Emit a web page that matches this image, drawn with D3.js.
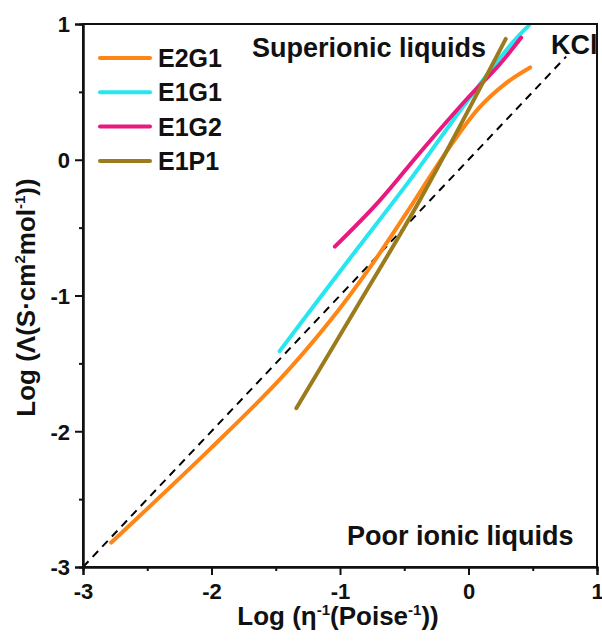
<!DOCTYPE html>
<html>
<head>
<meta charset="utf-8">
<script src="https://cdn.jsdelivr.net/npm/d3@7"></script>
<style>
  body { margin: 0; background: #fff; }
  svg text { font-family: "Liberation Sans", Arial, sans-serif; font-weight: bold; fill: #111; }
</style>
</head>
<body>
<svg id="chart"></svg>
<script>
// series (log eta^-1, log Lambda)
let e2g1X = [-2.78, -2.01, -1.47, -1.08, -0.75, -0.44, -0.20, 0.08, 0.30, 0.48];
let e2g1Y = [-2.82, -2.13, -1.62, -1.19, -0.77, -0.33, 0.02, 0.38, 0.57, 0.68];

let e1g1X = [-1.47, -0.95, -0.44, -0.02, 0.34, 0.47];
let e1g1Y = [-1.41, -0.76, -0.13, 0.42, 0.86, 0.99];

let e1g2X = [-1.04, -0.70, -0.38, -0.02, 0.24, 0.41];
let e1g2Y = [-0.64, -0.31, 0.05, 0.44, 0.70, 0.90];

let e1p1X = [-1.34, -0.86, -0.38, 0.29];
let e1p1Y = [-1.83, -1.07, -0.30, 0.89];

let kclX = [-3, 0.76];
let kclY = [-3, 0.76];

let seriesNames = ["E2G1", "E1G1", "E1G2", "E1P1"];
let colors = ["#ff8514", "#26e6ef", "#e81a80", "#9c7b1c"];
let xTicks = [-3, -2, -1, 0, 1];
let yTicks = [-3, -2, -1, 0, 1];

let margin = {top: 24, right: 5, bottom: 77, left: 83};
let svgWidth = 602, svgHeight = 644;
let width = svgWidth - margin.left - margin.right,
    height = svgHeight - margin.top - margin.bottom;

let x = d3.scaleLinear().domain([-3, 1]).range([0, width]),
    y = d3.scaleLinear().domain([-3, 1]).range([height, 0]);

let svg = d3.select("#chart")
    .attr("width", svgWidth)
    .attr("height", svgHeight);

let g = svg.append("g")
    .attr("transform", "translate(" + margin.left + "," + margin.top + ")");

// dashed KCl reference line
g.append("path")
    .datum(d3.zip(kclX, kclY))
    .attr("d", d3.line().x(d => x(d[0])).y(d => y(d[1])))
    .attr("fill", "none")
    .attr("stroke", "#000")
    .attr("stroke-width", 2)
    .attr("stroke-dasharray", "8,6");

let series = [
    d3.zip(e2g1X, e2g1Y),
    d3.zip(e1g1X, e1g1Y),
    d3.zip(e1g2X, e1g2Y),
    d3.zip(e1p1X, e1p1Y)
];

let line = d3.line()
    .x(d => x(d[0]))
    .y(d => y(d[1]))
    .curve(d3.curveCatmullRom.alpha(0.5));

series.forEach(function(s, i) {
    g.append("path")
        .datum(s)
        .attr("d", line)
        .attr("fill", "none")
        .attr("stroke", colors[i])
        .attr("stroke-width", 4)
        .attr("stroke-linecap", "round");
});

// frame
g.append("rect")
    .attr("x", 0).attr("y", 0)
    .attr("width", width).attr("height", height)
    .attr("fill", "none")
    .attr("stroke", "#111")
    .attr("stroke-width", 2);

// axes
let halfTicks = d3.range(-2.5, 1, 1);
let fmt = d => String(d);

g.append("g")
    .attr("transform", "translate(0," + height + ")")
    .call(d3.axisBottom(x).tickValues(xTicks).tickFormat(fmt).tickSize(8).tickPadding(8));
g.append("g")
    .attr("transform", "translate(0," + height + ")")
    .call(d3.axisBottom(x).tickValues(halfTicks).tickFormat("").tickSize(4));

let yAxis = g.append("g")
    .call(d3.axisLeft(y).tickValues(yTicks).tickFormat(fmt).tickSize(8).tickPadding(5));
g.append("g")
    .call(d3.axisLeft(y).tickValues(halfTicks).tickFormat("").tickSize(4));

g.selectAll(".domain").attr("stroke", "#111").attr("stroke-width", 2);
g.selectAll(".tick line").attr("stroke", "#111").attr("stroke-width", 2);
g.selectAll(".tick text")
    .style("font-family", '"Liberation Sans", Arial, sans-serif')
    .style("font-weight", "bold")
    .style("font-size", "22px")
    .attr("fill", "#111");
yAxis.selectAll(".tick text").attr("dy", "0.36em");

// legend
let legend = g.selectAll(".legend")
    .data(seriesNames)
    .enter()
    .append("g")
    .attr("transform", function(d, i) { return "translate(17," + (34 + i * 34.3) + ")"; });

legend.append("line")
    .attr("x1", 0).attr("x2", 50)
    .attr("y1", 0).attr("y2", 0)
    .attr("stroke", (d, i) => colors[i])
    .attr("stroke-width", 4)
    .attr("stroke-linecap", "round");

legend.append("text")
    .text(d => d)
    .attr("x", 58)
    .attr("y", 9)
    .style("font-size", "25px");

// annotations
svg.append("text")
    .text("Superionic liquids")
    .attr("x", 252).attr("y", 57)
    .style("font-size", "27px");

svg.append("text")
    .text("KCl")
    .attr("x", 551).attr("y", 54)
    .style("font-size", "27px");

svg.append("text")
    .text("Poor ionic liquids")
    .attr("x", 347).attr("y", 545)
    .style("font-size", "27px");

// axis titles
let xTitle = svg.append("text")
    .attr("x", margin.left + width / 2 - 2)
    .attr("y", 625)
    .attr("text-anchor", "middle")
    .style("font-size", "26px");
xTitle.append("tspan").text("Log (\u03b7");
xTitle.append("tspan").text("-1").attr("dy", -10).style("font-size", "15px");
xTitle.append("tspan").text("(Poise").attr("dy", 10);
xTitle.append("tspan").text("-1").attr("dy", -10).style("font-size", "15px");
xTitle.append("tspan").text("))").attr("dy", 10);

let yTitle = svg.append("text")
    .attr("transform", "translate(35," + (margin.top + height / 2 + 2) + ") rotate(-90)")
    .attr("text-anchor", "middle")
    .style("font-size", "26px");
yTitle.append("tspan").text("Log (\u039b(S\u00b7cm");
yTitle.append("tspan").text("2").attr("dy", -10).style("font-size", "15px");
yTitle.append("tspan").text("mol").attr("dy", 10);
yTitle.append("tspan").text("-1").attr("dy", -10).style("font-size", "15px");
yTitle.append("tspan").text("))").attr("dy", 10);
</script>
</body>
</html>
